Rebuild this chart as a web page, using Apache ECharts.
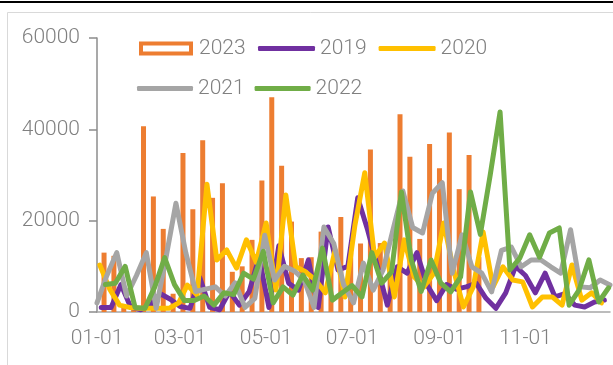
<!DOCTYPE html>
<html>
<head>
<meta charset="utf-8">
<script src="https://cdn.jsdelivr.net/npm/echarts@6/dist/echarts.min.js"></script>
<style>
  html, body { margin: 0; padding: 0; background: #fff; }
  #chart { width: 613px; height: 365px; }
</style>
</head>
<body>
<div id="chart"></div>
<script>
// Weekly volumes, one value per week (week ending Friday)
const years = ['2023', '2019', '2020', '2021', '2022'];
const firstFriday = { '2019': [2019, 0, 4], '2020': [2020, 0, 3], '2021': [2021, 0, 1], '2022': [2022, 0, 7], '2023': [2023, 0, 6] };

const vol2023 = [13000, 12300, 1000, 500, 40700, 25300, 18200, 4000, 34800, 22500,
  37600, 25000, 28200, 8800, 10000, 15800, 28800, 47000, 32000, 19800,
  11800, 12000, 17600, 10000, 20800, 13000, 15000, 35600, 15100, 9000,
  43300, 34000, 16000, 36800, 31500, 39300, 26900, 34400, 12000];

const vol2019 = [1000, 1000, 6000, 1000, 500, 1500, 4000, 2800, 1200, 800,
  7500, 1000, 500, 4500, 1500, 4500, 12000, 1000, 14500, 6300,
  4800, 11400, 1000, 18600, 9200, 10000, 25000, 18000, 10000, 1500,
  9900, 8500, 13000, 6000, 2500, 6000, 5000, 5500, 6300, 3000,
  800, 4200, 10000, 8000, 4200, 8500, 3300, 4000, 1500, 1100,
  2200, 2600];

const vol2020 = [10300, 5000, 1500, 1000, 800, 800, 800, 800, 2000, 5900,
  3700, 28000, 11400, 13600, 9600, 15800, 10900, 19500, 4800, 25600,
  9900, 8800, 7000, 4200, 13600, 3300, 19000, 30500, 12000, 15100,
  3300, 15800, 7700, 5500, 8500, 19500, 9200, 1100, 5500, 17500,
  5500, 9900, 7000, 6600, 1100, 3300, 3300, 1500, 10300, 2600,
  4200, 2000];

const vol2021 = [2000, 8000, 13000, 3500, 8000, 13000, 800, 12000, 23800, 13000,
  4500, 5000, 5500, 3500, 6400, 1000, 3000, 16800, 7000, 10000,
  9000, 7000, 1000, 18600, 15000, 6000, 2000, 10700, 4800, 9200,
  18000, 26500, 18500, 17300, 26000, 28300, 8500, 16900, 9900, 8500,
  4400, 13500, 14200, 9900, 11400, 11400, 9900, 8500, 18000, 5500,
  5300, 7000, 5900];

const vol2022 = [6000, 6300, 10000, 1000, 800, 5500, 11900, 6000, 2500, 2500,
  3500, 1500, 4200, 3800, 8500, 7200, 13300, 2000, 5500, 3700,
  8100, 4800, 14000, 2600, 4200, 5800, 3300, 13000, 6300, 8800,
  26300, 11400, 4500, 11400, 6300, 4400, 7700, 26300, 17000, 30000,
  43800, 9200, 11800, 16900, 12000, 17300, 18400, 1500, 4800, 11400,
  2200, 5300];

const xTickLabels = ['01-01', '03-01', '05-01', '07-01', '09-01', '11-01'];
const yTicks = { min: 0, max: 60000, step: 20000 };

const colors = { '2023': '#ED7D31', '2019': '#7030A0', '2020': '#FFC000', '2021': '#A5A5A5', '2022': '#70AD47' };
const textColor = '#808080';
const fontFamily = 'Roboto, "Liberation Sans", sans-serif';
const fontWeight = 300;

// Position of a month-day on a common (non-leap) calendar, in days from 01-01
const DAY = 86400000;
function dayOfYear(m, d) {
  return Math.round((Date.UTC(2023, m, d) - Date.UTC(2023, 0, 1)) / DAY);
}
function labelToDay(s) {
  const [m, d] = s.split('-').map(Number);
  return dayOfYear(m - 1, d);
}
function dayToLabel(v) {
  const t = new Date(Date.UTC(2023, 0, 1) + v * DAY);
  const mm = String(t.getUTCMonth() + 1).padStart(2, '0');
  const dd = String(t.getUTCDate()).padStart(2, '0');
  return mm + '-' + dd;
}
// Pair each weekly value with its week-ending date folded onto the common calendar
function weekly(year, values) {
  const [y, m, d] = firstFriday[year];
  return values.map((v, i) => {
    const t = new Date(Date.UTC(y, m, d + 7 * i));
    return [dayOfYear(t.getUTCMonth(), t.getUTCDate()), v];
  });
}

const lineSeries = (name, values) => ({
  name: name,
  type: 'line',
  data: weekly(name, values),
  symbol: 'none',
  showSymbol: false,
  lineStyle: { width: 5, color: colors[name], cap: 'round', join: 'round' },
  itemStyle: { color: colors[name] },
  emphasis: { disabled: true }
});

const legendText = { fontSize: 21, color: textColor, fontFamily: fontFamily, fontWeight: fontWeight };
const lineLegendItem = name => ({ name: name, icon: 'roundRect', itemStyle: { color: colors[name], borderWidth: 0 } });

const chart = echarts.init(document.getElementById('chart'), null, { renderer: 'canvas' });
chart.setOption({
  animation: false,
  backgroundColor: '#ffffff',
  color: years.map(y => colors[y]),
  grid: { left: 97, right: 3, top: 38, bottom: 53, outerBoundsMode: 'none' },
  graphic: [
    { type: 'line', shape: { x1: 0, y1: 2, x2: 613, y2: 2 }, style: { stroke: '#000', lineWidth: 2 }, silent: true },
    { type: 'rect', shape: { x: 7.5, y: 12.5, width: 640, height: 400 }, style: { fill: 'none', stroke: '#d9d9d9', lineWidth: 1 }, silent: true, z: -1 }
  ],
  legend: [
    {
      data: [{ name: '2023', itemStyle: { color: '#ffffff', borderColor: colors['2023'], borderWidth: 4 } }],
      left: 139, top: 38, padding: 0, icon: 'rect',
      itemWidth: 50, itemHeight: 10, textStyle: Object.assign({ padding: [0, 0, 0, 3] }, legendText),
      selectedMode: false
    },
    {
      data: [lineLegendItem('2019'), lineLegendItem('2020')],
      left: 258, top: 38, padding: 0, itemGap: 12,
      itemWidth: 57, itemHeight: 5, textStyle: legendText,
      selectedMode: false
    },
    {
      data: [lineLegendItem('2021'), lineLegendItem('2022')],
      left: 137, top: 78, padding: 0, itemGap: 10,
      itemWidth: 56, itemHeight: 5, textStyle: legendText,
      selectedMode: false
    }
  ],
  xAxis: {
    type: 'value',
    min: 0,
    max: 364,
    axisLine: { show: true, lineStyle: { color: '#a6a6a6', width: 1.5 } },
    axisTick: { show: false },
    splitLine: { show: false },
    axisLabel: {
      customValues: xTickLabels.map(labelToDay),
      formatter: v => dayToLabel(v),
      fontSize: 21, color: textColor, fontFamily: fontFamily, fontWeight: fontWeight, margin: 16
    }
  },
  yAxis: {
    type: 'value',
    min: yTicks.min,
    max: yTicks.max,
    interval: yTicks.step,
    axisLine: { show: true, lineStyle: { color: '#8c8c8c', width: 1.5 } },
    axisTick: { show: true, length: 8, lineStyle: { color: '#8c8c8c', width: 1.5 } },
    splitLine: { show: false },
    axisLabel: { formatter: v => String(v), fontSize: 21, color: textColor, fontFamily: fontFamily, fontWeight: fontWeight, margin: 17 }
  },
  series: [
    {
      name: '2023',
      type: 'bar',
      data: weekly('2023', vol2023),
      barWidth: 5,
      itemStyle: { color: colors['2023'] },
      emphasis: { disabled: true }
    },
    lineSeries('2019', vol2019),
    lineSeries('2020', vol2020),
    lineSeries('2021', vol2021),
    lineSeries('2022', vol2022)
  ]
});
</script>
</body>
</html>
